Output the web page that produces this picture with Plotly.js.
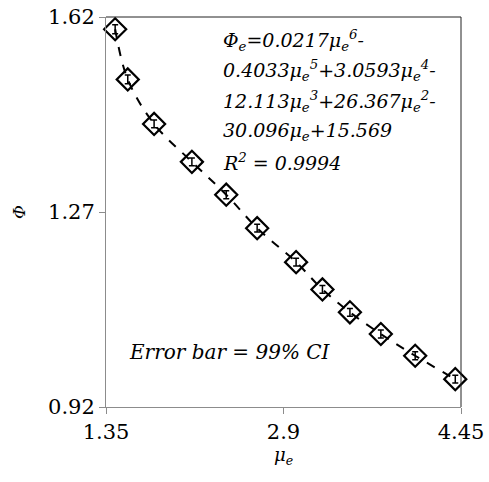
<!DOCTYPE html>
<html><head><meta charset="utf-8">
<script src="https://cdn.plot.ly/plotly-3.0.1.min.js"></script>
<style>body{margin:0;background:#fff}#c{width:489px;height:482px}</style>
</head><body><div id="c"></div>
<script>
const muE = [1.43, 1.54, 1.77, 2.10, 2.40, 2.67, 3.01, 3.24, 3.48, 3.75, 4.05, 4.40];
const phi = [1.598, 1.508, 1.428, 1.360, 1.301, 1.241, 1.180, 1.131, 1.090, 1.051, 1.012, 0.970];
const phiErr = [0.008, 0.008, 0.007, 0.007, 0.007, 0.007, 0.007, 0.007, 0.007, 0.007, 0.007, 0.007];
const xTicks = [1.35, 2.9, 4.45];
const yTicks = [0.92, 1.27, 1.62];
const eqLines = [
  "Φ<sub>e</sub>=0.0217μ<sub>e</sub><sup>6</sup>-",
  "0.4033μ<sub>e</sub><sup>5</sup>+3.0593μ<sub>e</sub><sup>4</sup>-",
  "12.113μ<sub>e</sub><sup>3</sup>+26.367μ<sub>e</sub><sup>2</sup>-",
  "30.096μ<sub>e</sub>+15.569",
  "R<sup>2</sup> = 0.9994"
];
const serif = "DejaVu Serif, serif";
const trace = {
  x: muE, y: phi, type: "scatter", mode: "lines+markers",
  line: {color: "#000", width: 2, dash: "dash", shape: "spline"},
  marker: {symbol: "diamond-open", size: 17, color: "#000", line: {width: 2.2, color: "#000"}},
  error_y: {type: "data", array: phiErr, visible: true, color: "#000", thickness: 1.5, width: 3},
  cliponaxis: false
};
const annotations = eqLines.map((t, i) => ({
  xref: "paper", yref: "paper", x: (221-106)/355, y: 1 - (40 + i*30.5 - 17)/390,
  xanchor: "left", yanchor: "middle", showarrow: false, align: "left",
  text: "<i>" + t + "</i>", font: {family: serif, size: 19, color: "#000"}
}));
annotations.push({
  xref: "paper", yref: "paper", x: (127-106)/355, y: 1 - (352-17)/390,
  xanchor: "left", yanchor: "middle", showarrow: false,
  text: "<i>Error bar = 99% CI</i>", font: {family: serif, size: 20, color: "#000"}
});
annotations.push({
  xref: "paper", yref: "paper", x: (19-106)/355, y: 1 - (212-17)/390,
  xanchor: "center", yanchor: "middle", showarrow: false, textangle: -90,
  text: "<i>Φ</i>", font: {family: serif, size: 17, color: "#000"}
});
const layout = {
  width: 489, height: 482, margin: {l: 106, r: 28, t: 17, b: 75},
  paper_bgcolor: "#fff", plot_bgcolor: "#fff", showlegend: false,
  xaxis: {range: [1.35, 4.45], tickvals: xTicks, ticktext: xTicks.map(String),
    showgrid: false, zeroline: false, showline: true, linecolor: "#8c8c8c", linewidth: 1,
    ticks: "outside", ticklen: 6, tickcolor: "#8c8c8c",
    tickfont: {family: serif, size: 21, color: "#000"},
    title: {text: "<i>μ<sub>e</sub></i>", font: {family: serif, size: 18, color: "#000"}, standoff: 5}},
  yaxis: {range: [0.92, 1.62], tickvals: yTicks, ticktext: yTicks.map(String),
    showgrid: false, zeroline: false, showline: true, linecolor: "#8c8c8c", linewidth: 1,
    ticks: "outside", ticklen: 6, tickcolor: "#8c8c8c",
    tickfont: {family: serif, size: 21, color: "#000"}},
  shapes: [
    {type: "line", xref: "paper", yref: "paper", x0: 0, x1: 1, y0: 1, y1: 1, line: {color: "#222", width: 1}},
    {type: "line", xref: "paper", yref: "paper", x0: 1, x1: 1, y0: 0, y1: 1, line: {color: "#222", width: 1}}
  ],
  annotations: annotations
};
Plotly.newPlot("c", [trace], layout, {displayModeBar: false, staticPlot: true});
</script></body></html>
